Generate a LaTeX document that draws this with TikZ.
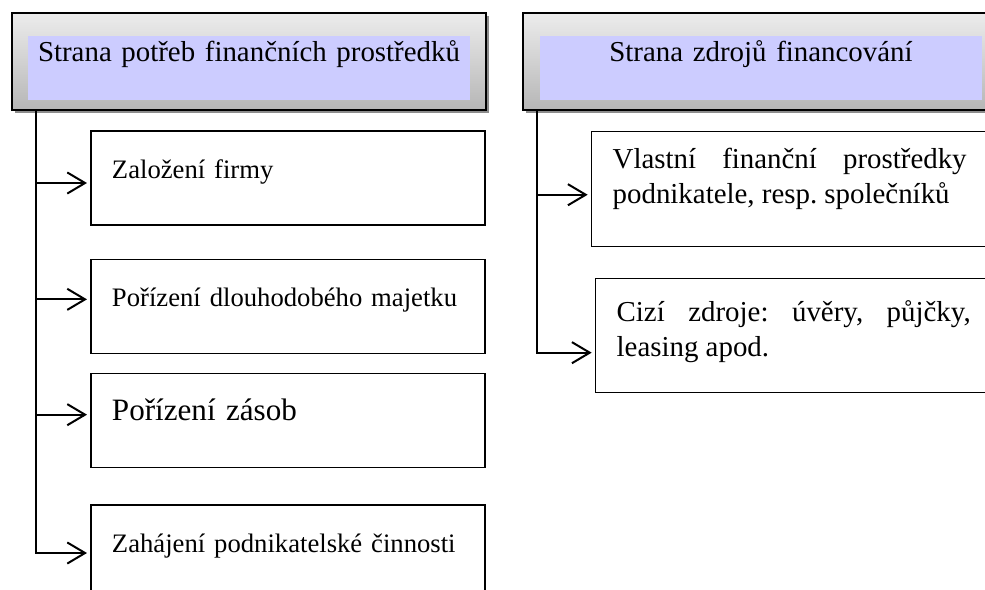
\documentclass[tikz,border=0pt]{standalone}
\usepackage{fontspec}
\setmainfont{Liberation Serif}
\usepackage{tikz}
\usetikzlibrary{positioning, shadows, arrows.meta}
\definecolor{hdrtop}{RGB}{236,236,236}
\definecolor{hdrbot}{RGB}{182,182,182}
\definecolor{titleblue}{RGB}{204,204,255}
\frenchspacing
\tikzstyle{hdrbox} =
[
	draw,rectangle,line width=0.9pt,inner sep=0pt,
	minimum width=213.3pt, minimum height=43.65pt,
	top color=hdrtop, bottom color=hdrbot,
	drop shadow={shadow xshift=1.4pt, shadow yshift=-1.4pt, fill=black!45, opacity=1}
]
\tikzstyle{titlebox} =
[
	rectangle,fill=titleblue,inner sep=0pt,
	text width=198.9pt, align=center,
	text height=11.25pt, text depth=17.55pt,
	font=\fontsize{13}{15.6}\selectfont
]
\tikzstyle{itembox} =
[
	draw,rectangle,line width=0.6pt,inner xsep=9.45pt,inner ysep=0pt,
	text width=158.4pt, align=left,
	text height=21.15pt, text depth=21.15pt,
	font=\fontsize{12}{14.4}\selectfont
]
\tikzstyle{srcbox} =
[
	draw,rectangle,line width=0.6pt,inner xsep=9.45pt,inner ysep=0pt,
	text width=159.3pt, align=justify,
	font=\fontsize{13}{15.75}\selectfont
]
\begin{document}
\begin{tikzpicture}[x=0.45pt,y=-0.45pt,->,>={Straight Barb[length=8pt,width=9.5pt]},shorten >=1.5pt,line width=0.9pt]

\useasboundingbox (0,0) rectangle (985,589);

% headers
\node[hdrbox, anchor=north west] (hdrL) at (11,12) {};
\node[hdrbox, anchor=north west] (hdrR) at (522,12) {};
\node[titlebox, anchor=north west] (ttlL) at (27,35) {Strana potřeb finančních prostředků};
\node[titlebox, anchor=north west] (ttlR) at (539,35) {Strana zdrojů financování};

% needs
\node[itembox] (lb1) at (288,178) {Založení firmy};
\node[itembox] (lb2) [below=14.85pt of lb1] {Pořízení dlouhodobého majetku};
\node[itembox, font=\fontsize{14}{16.8}\selectfont] (lb3) [below=8.55pt of lb2] {Pořízení zásob};
\node[itembox] (lb4) [below=16.2pt of lb3] {Zahájení podnikatelské činnosti};

% sources
\node[srcbox, anchor=north west, text height=16.65pt, text depth=35.1pt] (rb1) at (591,131)
	{Vlastní finanční prostředky\linebreak podnikatele, resp. společníků};
\node[srcbox, anchor=north west, text height=19.35pt, text depth=31.95pt] (rb2) at (595,278)
	{Cizí zdroje: úvěry, půjčky,\linebreak leasing apod.};

\coordinate (stemL) at ([xshift=11.25pt]hdrL.south west);
\coordinate (stemR) at ([xshift=6.75pt]hdrR.south west);

\draw (stemL) |- ([yshift=-0.45pt]lb4.west);
\path
	([yshift=-2.25pt]lb1.west -| stemL) edge ([yshift=-2.25pt]lb1.west)
	([yshift=3.15pt]lb2.west -| stemL) edge ([yshift=3.15pt]lb2.west)
	([yshift=2.7pt]lb3.west -| stemL) edge ([yshift=2.7pt]lb3.west);

\draw (stemR) |- ([yshift=-7.65pt]rb2.west);
\path
	([yshift=-2.5pt]rb1.west -| stemR) edge ([yshift=-2.5pt]rb1.west);

\end{tikzpicture}
\end{document}
